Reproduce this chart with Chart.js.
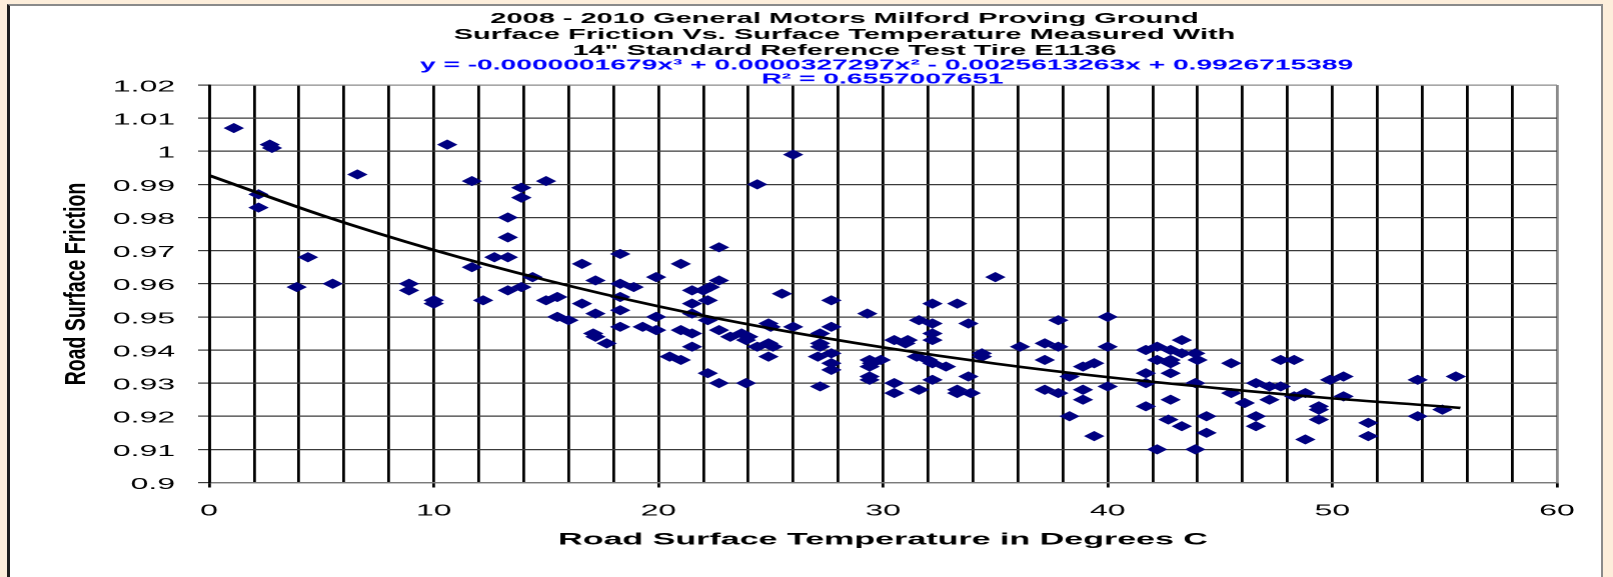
<!DOCTYPE html>
<html>
<head>
<meta charset="utf-8">
<title>Surface Friction Vs. Surface Temperature</title>
<script src="https://cdn.jsdelivr.net/npm/chart.js@4.4.1/dist/chart.umd.min.js"></script>
<style>
	html, body { margin: 0; padding: 0; width: 1613px; height: 577px; overflow: hidden; background: #fdeedb; }
	#frame { position: absolute; left: 7px; top: 4px; width: 1591px; height: 620px; background: #fff;
		border-left: 3px solid #1e1e1e; border-top: 2px solid #8a8a8a; border-right: 2px solid #8a8a8a; }
	/* 原圖是橫向拉寬的 Excel 圖, 這裡用 scaleX 重現 */
	#wrap { position: absolute; left: 0; top: 0; width: 806px; height: 577px; transform: scaleX(2.0012); transform-origin: 0 0; }
</style>
</head>
<body>
<div id="frame"></div>
<div id="wrap"><canvas id="myChart"></canvas></div>
<script>
/* 資料開始 */
var temperature = [
	1.1, 2.7, 2.8, 2.2, 2.2, 6.6, 4.4, 3.9, 5.5, 8.9, 8.9, 10.0, 10.0, 10.6,
	11.7, 13.9, 13.9, 15.0, 13.3, 13.3, 12.7, 13.3, 11.7, 12.2, 13.3, 13.9, 14.4, 15.0, 15.5, 15.5, 16.0, 16.6, 17.2, 16.6,
	17.2, 17.1, 17.2, 17.7, 18.3, 18.3, 18.9, 18.3, 18.3, 18.3, 19.3, 19.9, 19.9, 19.9,
	21.0, 22.7, 22.7, 21.5, 22.0, 22.3, 21.5, 22.2, 21.5, 22.2, 21.0, 21.5, 22.7, 23.2, 23.7, 24.0, 23.9, 21.5, 20.5, 21.0,
	22.2, 22.7, 23.9, 24.4, 26.0, 25.5, 27.7, 24.9, 25.0, 26.0, 24.4, 24.9, 25.1, 24.9, 27.2, 27.7, 27.2, 27.2, 27.1, 27.7,
	27.7, 27.7, 27.2,
	29.3, 29.4, 29.9, 29.5, 29.4, 29.4, 29.4, 30.5, 31.1, 31.0, 30.5, 30.5, 31.6, 32.2, 32.2, 32.2, 32.2, 31.5, 32.0, 32.2,
	32.8, 32.2, 31.6, 33.3, 33.8, 33.3, 33.3, 33.8, 33.9, 34.4, 34.4, 35.0, 36.1, 37.2, 37.8, 37.8, 37.2, 37.2, 37.8, 38.3,
	38.3,
	38.9, 39.4, 38.9, 38.9, 39.4, 40.0, 40.0, 40.0, 41.7, 42.2, 42.8, 43.3, 43.9, 42.2, 42.8, 42.8, 43.3, 44.0, 41.7, 41.7,
	42.8, 42.8, 41.7, 42.7, 43.3, 42.2, 43.9, 43.9, 44.4, 44.4, 45.5, 45.5, 46.1, 46.6, 47.2, 47.7, 46.6, 46.6, 47.2, 47.7,
	48.3, 48.3, 48.8, 49.9, 50.5, 50.5, 49.4, 49.4, 49.4, 48.8, 51.6, 51.6, 53.8, 53.8, 54.9, 55.5
];
var friction = [
	1.007, 1.002, 1.001, 0.987, 0.983, 0.993, 0.968, 0.959, 0.960, 0.960, 0.958, 0.955, 0.954, 1.002,
	0.991, 0.989, 0.986, 0.991, 0.980, 0.974, 0.968, 0.968, 0.965, 0.955, 0.958, 0.959, 0.962, 0.955, 0.956, 0.950, 0.949, 0.966, 0.961, 0.954,
	0.951, 0.945, 0.944, 0.942, 0.969, 0.960, 0.959, 0.956, 0.952, 0.947, 0.947, 0.946, 0.962, 0.950,
	0.966, 0.971, 0.961, 0.958, 0.958, 0.959, 0.954, 0.955, 0.951, 0.949, 0.946, 0.945, 0.946, 0.944, 0.945, 0.944, 0.943, 0.941, 0.938, 0.937,
	0.933, 0.930, 0.930, 0.990, 0.999, 0.957, 0.955, 0.948, 0.947, 0.947, 0.941, 0.942, 0.941, 0.938, 0.945, 0.947, 0.942, 0.941, 0.938, 0.939,
	0.936, 0.934, 0.929,
	0.951, 0.937, 0.937, 0.936, 0.935, 0.932, 0.931, 0.943, 0.943, 0.942, 0.930, 0.927, 0.949, 0.954, 0.948, 0.945, 0.943, 0.938, 0.937, 0.936,
	0.935, 0.931, 0.928, 0.954, 0.948, 0.928, 0.927, 0.932, 0.927, 0.939, 0.938, 0.962, 0.941, 0.942, 0.941, 0.949, 0.937, 0.928, 0.927, 0.932,
	0.920,
	0.935, 0.936, 0.928, 0.925, 0.914, 0.950, 0.941, 0.929, 0.940, 0.941, 0.940, 0.943, 0.939, 0.937, 0.937, 0.936, 0.939, 0.937, 0.933, 0.930,
	0.933, 0.925, 0.923, 0.919, 0.917, 0.910, 0.910, 0.930, 0.920, 0.915, 0.936, 0.927, 0.924, 0.930, 0.929, 0.929, 0.920, 0.917, 0.925, 0.937,
	0.937, 0.926, 0.927, 0.931, 0.932, 0.926, 0.923, 0.922, 0.919, 0.913, 0.918, 0.914, 0.931, 0.920, 0.922, 0.932
];

// 趨勢線 (從圖上讀的點)
var trendTemp = [0, 5, 10, 15, 20, 25, 30, 35, 40, 45, 50, 55, 55.7];
var trendFriction = [0.9927, 0.9807, 0.9702, 0.9611, 0.9532, 0.9465, 0.9408, 0.9359, 0.9318, 0.9284, 0.9254, 0.9229, 0.9225];

var xTickLabels = ['0', '10', '20', '30', '40', '50', '60'];

var titleLines = [
	'2008 - 2010 General Motors Milford Proving Ground',
	'Surface Friction Vs. Surface Temperature Measured With',
	'14" Standard Reference Test Tire E1136'
];
var equationLines = [
	'y = -0.0000001679x³ + 0.0000327297x² - 0.0025613263x + 0.9926715389',
	'R² = 0.6557007651'
];
var xAxisTitle = 'Road Surface Temperature in Degrees C';
var yAxisTitle = 'Road Surface Friction';
/* 資料結束 */

var FONT = '"Liberation Sans", Arial, sans-serif';

// 在 (x, y) 畫一行置中文字, sx 是橫向縮放
function drawLine(ctx, text, x, y, sx) {
	ctx.save();
	ctx.translate(x, y);
	ctx.scale(sx, 1);
	ctx.fillText(text, 0, 0);
	ctx.restore();
}

// 標題, 公式, Y 軸標題
var titlePlugin = {
	id: 'chartTitles',
	afterDraw: function(chart) {
		var ctx = chart.ctx;
		var titleY = [18.7, 35, 50.7];
		var eqY = [65.5, 79.5];
		ctx.save();
		ctx.textAlign = 'center';
		ctx.textBaseline = 'middle';
		ctx.font = 'bold 15px ' + FONT;
		ctx.fillStyle = '#000';
		for (var i = 0; i < titleLines.length; i++) {
			drawLine(ctx, titleLines[i], 422, titleY[i], 0.965);
		}
		ctx.font = 'bold 14.6px ' + FONT;
		ctx.fillStyle = '#0000ff';
		drawLine(ctx, equationLines[0], 443, eqY[0], 0.965);
		drawLine(ctx, equationLines[1], 441, eqY[1], 0.965);

		// Y 軸標題: 部分抵消 scaleX, 直立文字
		ctx.translate(38.7, 284);
		ctx.scale(0.75, 1);
		ctx.rotate(-Math.PI / 2);
		ctx.font = 'bold 19.5px ' + FONT;
		ctx.fillStyle = '#000';
		ctx.fillText(yAxisTitle, 0, 0);
		ctx.restore();
	}
};

var points = [];
for (var i = 0; i < temperature.length; i++) {
	points.push({ x: temperature[i], y: friction[i] });
}
var trend = [];
for (var j = 0; j < trendTemp.length; j++) {
	trend.push({ x: trendTemp[j], y: trendFriction[j] });
}

var ctx = document.getElementById('myChart');
var myChart = new Chart(ctx, {
	type: 'scatter',
	data: {
		datasets: [{
			label: 'Poly. (Friction)',
			data: trend,
			showLine: true,
			borderColor: '#000',
			borderWidth: 2.6,
			pointRadius: 0,
			cubicInterpolationMode: 'monotone'
		}, {
			label: 'Friction',
			data: points,
			pointStyle: 'rectRot',
			pointRadius: 4.7,
			backgroundColor: '#000080',
			borderColor: '#000080',
			borderWidth: 0.6
		}]
	},
	options: {
		responsive: true,
		maintainAspectRatio: false,
		animation: false,
		devicePixelRatio: 2,
		layout: { padding: { top: 85, right: 28, left: 0, bottom: 0 } },
		plugins: {
			legend: { display: false },
			tooltip: { enabled: false }
		},
		scales: {
			x: {
				type: 'linear',
				min: 0,
				max: 60,
				afterFit: function(scale) { scale.height = 94.5; },
				ticks: {
					stepSize: 2,
					autoSkip: false,
					maxRotation: 0,
					padding: 13.9,
					color: '#000',
					font: { family: FONT, size: 16 },
					callback: function(value) {
						var s = String(value);
						return xTickLabels.indexOf(s) >= 0 ? s : '';
					}
				},
				grid: {
					lineWidth: 1.4,
					tickLength: 5,
					color: function(c) {
						return c.tick && c.tick.value === 60 ? '#8a8a8a' : '#000';
					},
					tickColor: function(c) {
						return c.tick && xTickLabels.indexOf(String(c.tick.value)) >= 0 ? '#000' : 'rgba(0,0,0,0)';
					}
				},
				border: { color: '#7a7a7a', width: 1.2 },
				title: {
					display: true,
					text: xAxisTitle,
					color: '#000',
					font: { family: FONT, size: 17, weight: 'bold' },
					padding: { top: 0, bottom: 26.8 }
				}
			},
			y: {
				min: 0.9,
				max: 1.02,
				afterFit: function(scale) { scale.width = 104.5; },
				ticks: {
					stepSize: 0.01,
					padding: 11.5,
					labelOffset: 2,
					color: '#000',
					font: { family: FONT, size: 16 },
					callback: function(value) {
						return String(Number(value.toFixed(2)));
					}
				},
				grid: {
					lineWidth: 1.2,
					tickLength: 5.5,
					color: function(c) {
						return c.tick && c.tick.value > 1.019 ? '#8a8a8a' : '#3a3a3a';
					},
					tickColor: '#3a3a3a'
				},
				border: { color: '#000', width: 1.4 }
			}
		}
	},
	plugins: [titlePlugin]
});
</script>
</body>
</html>
